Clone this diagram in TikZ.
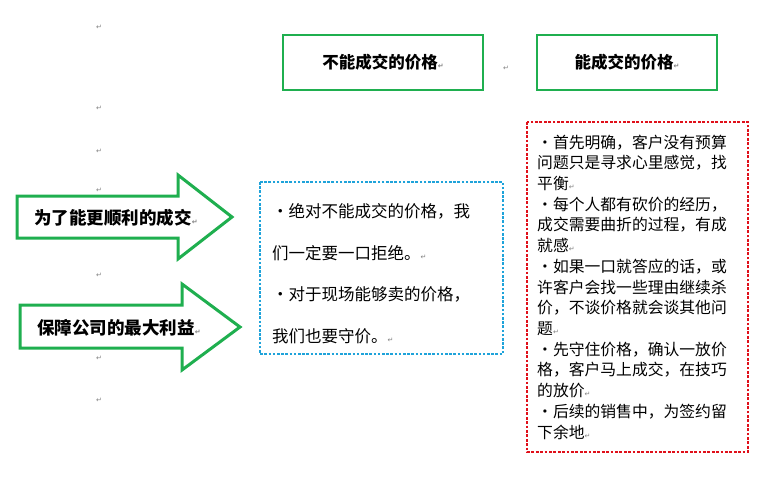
\documentclass[tikz,border=0pt]{standalone}
\usepackage{fontspec}
\newfontfamily\cjk{Noto Sans CJK SC}
\newfontfamily\dv{DejaVu Sans}
\definecolor{gr}{HTML}{1FAF4F}
\definecolor{bl}{HTML}{1FA3DA}
\definecolor{rd}{HTML}{E0101A}
\newcommand{\rt}{{\dv\color{gray}\fontsize{7}{7}\selectfont ↵}}
\begin{document}
\begin{tikzpicture}[x=1pt,y=-1pt,
  hd/.style={draw=gr,line width=2pt,font=\cjk\bfseries\fontsize{16.5}{18}\selectfont},
  tx/.style={anchor=west,inner sep=0,font=\cjk\fontsize{16.5}{18}\selectfont},
  rx/.style={anchor=west,inner sep=0,font=\cjk\fontsize{15.8}{17}\selectfont},
  mk/.style={inner sep=0,font=\dv\color{gray}\fontsize{7}{7}\selectfont}]
\useasboundingbox (0,0) rectangle (762,482);
\node[hd,minimum width=200,minimum height=55] (b1) at (383,62) {不能成交的价格\rt};
\node[hd,minimum width=180,minimum height=55] (b2) at (627,62) {能成交的价格\rt};
\draw[gr,line width=3pt,fill=white] (17,196)--(178,196)--(178,175)--(232,217)--(178,259)--(178,238)--(17,238)--cycle;
\draw[gr,line width=3pt,fill=white] (20,305)--(182,305)--(182,284)--(240,327)--(182,370)--(182,348)--(20,348)--cycle;
\node[inner sep=0,font=\cjk\bfseries\fontsize{17.5}{19}\selectfont] (a1) at (116,218) {为了能更顺利的成交\rt};
\node[inner sep=0,font=\cjk\bfseries\fontsize{17.5}{19}\selectfont] (a2) at (119,328) {保障公司的最大利益\rt};
\draw[bl,line width=2.6pt,dash pattern=on 2.6pt off 1.6pt] (260,182) rectangle (503,354);
\node[tx] (t1) at (272,211) {•绝对不能成交的价格，我};
\node[tx] (t2) at (272,253) {们一定要一口拒绝。\rt};
\node[tx] (t3) at (272,294) {•对于现场能够卖的价格，};
\node[tx] (t4) at (272,336) {我们也要守价。\rt};
\draw[rd,line width=2.8pt,dash pattern=on 2.8pt off 1.6pt] (527,122) rectangle (748,452);
\foreach \s [count=\i] in {{·首先明确，客户没有预算},{问题只是寻求心里感觉，找},{平衡\rt},{·每个人都有砍价的经历，},{成交需要曲折的过程，有成},{就感\rt},{·如果一口就答应的话，或},{许客户会找一些理由继续杀},{价，不谈价格就会谈其他问},{题\rt},{·先守住价格，确认一放价},{格，客户马上成交，在技巧},{的放价\rt},{·后续的销售中，为签约留},{下余地\rt}}
  \node[rx] (r\i) at (537,121.5+20.7*\i) {\s};
\foreach \y [count=\i] in {27,108,151,190,275,358,400}
  \node[mk] (m\i) at (99,\y) {↵};
\node[mk] (m8) at (506,68) {↵};
\end{tikzpicture}
\end{document}
